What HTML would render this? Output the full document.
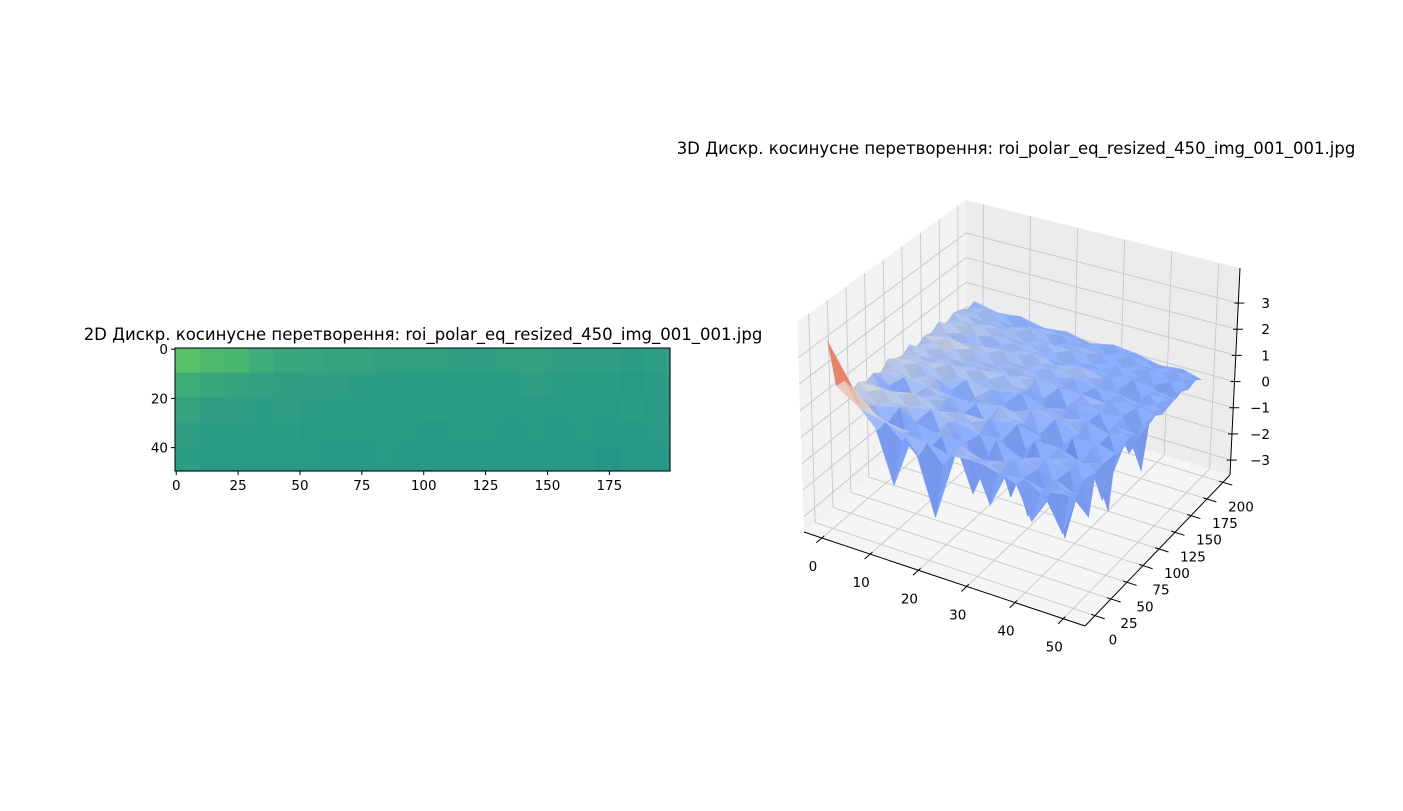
<!DOCTYPE html>
<html><head><meta charset="utf-8">
<style>
html,body{margin:0;padding:0;background:#fff;}
svg{display:block;font-family:"DejaVu Sans","Liberation Sans",sans-serif;}
</style></head>
<body>
<svg id="fig" width="1403" height="811" viewBox="0 0 1403 811" xmlns="http://www.w3.org/2000/svg">
<rect width="1403" height="811" fill="#fff"/>
<text x="423" y="340" font-size="16.5" text-anchor="middle" fill="#000">2D Дискр. косинусне перетворення: roi_polar_eq_resized_450_img_001_001.jpg</text>
<text x="1016" y="154" font-size="16.5" text-anchor="middle" fill="#000">3D Дискр. косинусне перетворення: roi_polar_eq_resized_450_img_001_001.jpg</text>
<g id="heat"></g>
<g id="surf"></g>
</svg>
<script>
// ---------- Heatmap data (viridis-normalized values, 5 row bands x 20 column bands) ----------
const heatRowsCount = 50;
const heatColsCount = 200;
const heatXTicks = [0,25,50,75,100,125,150,175];
const heatYTicks = [0,20,40];
const heatRow0 = [0.72,0.68,0.66,0.62,0.6,0.59,0.58,0.58,0.57,0.57,0.57,0.56,0.56,0.57,0.57,0.56,0.56,0.56,0.55,0.56];
const heatRow1 = [0.62,0.6,0.58,0.57,0.56,0.56,0.56,0.55,0.55,0.55,0.55,0.55,0.55,0.55,0.56,0.55,0.55,0.55,0.54,0.55];
const heatRow2 = [0.58,0.56,0.56,0.55,0.56,0.55,0.55,0.55,0.55,0.54,0.55,0.54,0.55,0.54,0.54,0.54,0.54,0.54,0.55,0.54];
const heatRow3 = [0.56,0.55,0.55,0.55,0.55,0.54,0.54,0.54,0.54,0.54,0.53,0.54,0.54,0.53,0.54,0.53,0.54,0.53,0.53,0.54];
const heatRow4 = [0.55,0.54,0.54,0.54,0.54,0.54,0.53,0.53,0.54,0.53,0.53,0.53,0.53,0.53,0.53,0.53,0.53,0.52,0.53,0.53];
const heatRows = [heatRow0,heatRow1,heatRow2,heatRow3,heatRow4];

// ---------- Surface data (z values on coarse grid) ----------
const surfXs = [0,5,10,15,20,25,30,35,40,45,49];
const surfYs = [0,10,20,30,40,50,60,70,80,90,100,110,120,130,140,150,160,170,180,190,199];
const surfZ0  = [3.5,1.6,1.2,1.0,1.1,0.9,1.0,0.8,1.1,0.9,0.8,1.0,0.7,0.9,0.8,1.0,0.7,0.9,0.8,0.6,0.7];
const surfZ5  = [2.0,1.0,0.9,0.7,1.1,0.8,-0.5,0.9,0.6,1.0,0.8,0.7,0.9,1.1,0.6,0.8,0.9,0.7,0.6,0.8,0.5];
const surfZ10 = [1.2,0.8,-1.8,0.9,0.7,1.0,0.6,0.8,0.9,0.5,1.0,0.7,0.6,0.9,0.8,0.5,0.7,0.8,0.6,0.4,0.6];
const surfZ15 = [0.9,0.7,0.8,-1.0,0.9,0.6,0.8,0.7,-0.4,0.9,0.6,0.8,0.7,0.5,0.9,0.6,0.7,0.5,0.8,0.6,0.4];
const surfZ20 = [0.8,-2.2,0.6,0.9,0.7,0.8,-1.2,0.7,0.6,0.8,0.5,0.9,0.6,0.7,0.5,0.8,0.6,0.7,0.4,0.6,0.5];
const surfZ25 = [0.6,0.8,0.7,-1.5,0.5,0.8,0.6,0.9,0.4,-0.8,0.7,0.6,0.8,0.5,0.7,0.6,0.4,0.7,0.6,0.5,0.3];
const surfZ30 = [0.7,0.5,-1.4,0.8,0.6,-1.8,0.7,0.5,0.8,0.6,0.4,-1.0,0.7,0.5,0.6,0.8,0.5,0.4,0.6,0.3,0.5];
const surfZ35 = [0.5,0.7,0.6,0.4,-2.0,0.6,0.5,-1.5,0.7,0.5,0.6,0.4,0.7,-0.6,0.5,0.6,0.4,0.6,0.3,0.5,0.4];
const surfZ40 = [0.6,-1.2,0.5,0.7,0.4,0.6,-3.0,0.5,0.4,0.7,-1.4,0.5,0.6,0.4,0.5,-0.8,0.6,0.4,0.5,0.3,0.2];
const surfZ45 = [0.4,0.6,-1.6,0.5,0.6,0.3,0.5,0.6,-1.8,0.4,0.5,0.6,-1.0,0.5,0.3,0.5,0.4,-0.7,0.3,0.4,0.3];
const surfZ49 = [0.5,0.3,0.5,-1.0,0.4,0.5,-1.5,0.4,0.3,0.5,0.4,-1.2,0.3,0.4,0.2,0.5,0.3,0.4,0.2,0.3,0.1];
const surfZ = [surfZ0,surfZ5,surfZ10,surfZ15,surfZ20,surfZ25,surfZ30,surfZ35,surfZ40,surfZ45,surfZ49];
const xTicks3 = [0,10,20,30,40,50];
const yTicks3 = [0,25,50,75,100,125,150,175,200];
const zTicks3 = [-3,-2,-1,0,1,2,3];

const NS = "http://www.w3.org/2000/svg";
function mk(tag, attrs, parent){const e=document.createElementNS(NS,tag);for(const k in attrs)e.setAttribute(k,attrs[k]);parent.appendChild(e);return e;}
function lerpStops(stops,t){t=Math.max(0,Math.min(1,t));for(let i=1;i<stops.length;i++){if(t<=stops[i][0]){const a=stops[i-1],b=stops[i];const f=(t-a[0])/(b[0]-a[0]);return [0,1,2].map(k=>Math.round(a[1][k]+(b[1][k]-a[1][k])*f));}}return stops[stops.length-1][1];}
const viridis=[[0,[68,1,84]],[0.25,[59,82,139]],[0.5,[33,145,140]],[0.75,[94,201,98]],[1,[253,231,37]]];
const coolwarm=[[0,[59,76,192]],[0.2,[98,130,234]],[0.35,[141,176,254]],[0.5,[221,221,221]],[0.65,[245,183,158]],[0.8,[236,123,96]],[1,[180,4,38]]];
const rgb=c=>`rgb(${c[0]},${c[1]},${c[2]})`;

// ---------- Heatmap ----------
(function(){
  const g=document.getElementById('heat');
  const L=175,T=348,W=495,H=123;
  const sx=c=>L+(c+0.5)*W/heatColsCount;
  const sy=r=>T+(r+0.5)*H/heatRowsCount;
  const nr=heatRows.length;
  heatRows.forEach((row,ri)=>{
    const nc=row.length;
    row.forEach((v,ci)=>{
      const r=mk('rect',{x:L+ci*W/nc,y:T+ri*H/nr,width:W/nc+0.6,height:H/nr+0.6,fill:rgb(lerpStops(viridis,v))},g);
      
      
    });
  });
  const fr=mk('rect',{x:L,y:T,width:W,height:H,fill:'none',stroke:'#000','stroke-width':1},g);
  
  
  heatXTicks.forEach(v=>{
    const x=sx(v);
    mk('line',{x1:x,y1:T+H,x2:x,y2:T+H+4,stroke:'#000'},g);
    const t=mk('text',{x:x,y:T+H+19,'font-size':13.5,'text-anchor':'middle'},g);t.textContent=v;
    
    
  });
  heatYTicks.forEach(v=>{
    const y=sy(v);
    mk('line',{x1:L-4,y1:y,x2:L,y2:y,stroke:'#000'},g);
    const t=mk('text',{x:L-7,y:y+5,'font-size':13.5,'text-anchor':'end'},g);t.textContent=v;
    
    
  });
})();

// ---------- 3D surface ----------
(function(){
  const g=document.getElementById('surf');
  const xmin=-3.7,xmax=54.5,ymin=-15.6,ymax=211,zmin=-3.57,zmax=4.34;
  const C={ '000':[804,532],'100':[1085,626],'010':[966,395],'110':[1230,475],
            '001':[797,322],'101':[1086,408],'011':[966,200],'111':[1240,268]};
  function P(x,y,z){
    const u=(x-xmin)/(xmax-xmin),v=(y-ymin)/(ymax-ymin),w=(z-zmin)/(zmax-zmin);
    const r=[0,0];
    for(const a of [0,1])for(const b of [0,1])for(const c of [0,1]){
      const f=(a?u:1-u)*(b?v:1-v)*(c?w:1-w);const p=C[''+a+b+c];r[0]+=f*p[0];r[1]+=f*p[1];}
    return r;
  }
  const pts=a=>a.map(p=>p[0].toFixed(1)+','+p[1].toFixed(1)).join(' ');
  const paneL=mk('polygon',{points:pts([P(xmin,ymin,zmin),P(xmin,ymax,zmin),P(xmin,ymax,zmax),P(xmin,ymin,zmax)]),fill:'#f2f2f2'},g);
  
  const paneB=mk('polygon',{points:pts([P(xmin,ymax,zmin),P(xmax,ymax,zmin),P(xmax,ymax,zmax),P(xmin,ymax,zmax)]),fill:'#ececec'},g);
  
  const paneF=mk('polygon',{points:pts([P(xmin,ymin,zmin),P(xmax,ymin,zmin),P(xmax,ymax,zmin),P(xmin,ymax,zmin)]),fill:'#f5f5f5'},g);
  
  const gl=(a,b)=>{const l=mk('line',{x1:a[0],y1:a[1],x2:b[0],y2:b[1],stroke:'#c8c8c8','stroke-width':0.9},g);
    };
  xTicks3.forEach(x=>{gl(P(x,ymin,zmin),P(x,ymax,zmin));gl(P(x,ymax,zmin),P(x,ymax,zmax));});
  yTicks3.forEach(y=>{gl(P(xmin,y,zmin),P(xmax,y,zmin));gl(P(xmin,y,zmin),P(xmin,y,zmax));});
  zTicks3.forEach(z=>{gl(P(xmin,ymin,z),P(xmin,ymax,z));gl(P(xmin,ymax,z),P(xmax,ymax,z));});

  function colorT(z){ return z>=0.5 ? 0.35+(z-0.5)*0.217 : 0.35+(z-0.5)*0.06; }
  const quads=[];
  for(let i=0;i<surfXs.length-1;i++)for(let j=0;j<surfYs.length-1;j++){
    const x0=surfXs[i],x1=surfXs[i+1],y0=surfYs[j],y1=surfYs[j+1];
    const z00=surfZ[i][j],z10=surfZ[i+1][j],z11=surfZ[i+1][j+1],z01=surfZ[i][j+1];
    const mx=(x0+x1)/2,my=(y0+y1)/2,mz=(z00+z10+z11+z01)/4;
    const c=P(mx,my,mz);
    const corners=[[x0,y0,z00],[x1,y0,z10],[x1,y1,z11],[x0,y1,z01]];
    for(let k=0;k<4;k++){
      const a=corners[k],b=corners[(k+1)%4];
      const tz=(a[2]+b[2]+mz)/3;
      const tx=(a[0]+b[0]+mx)/3,ty=(a[1]+b[1]+my)/3;
      quads.push({d:(tx-xmin)/(xmax-xmin)+(ymax-ty)/(ymax-ymin),p:[P(a[0],a[1],a[2]),P(b[0],b[1],b[2]),c],z:tz,shade:(k%2?0.95:1)});
    }
  }
  quads.sort((a,b)=>a.d-b.d);
  quads.forEach(q=>{
    const col=lerpStops(coolwarm,colorT(q.z)).map(v=>Math.min(255,Math.round(v*q.shade)));
    const e=mk('polygon',{points:pts(q.p),fill:rgb(col),stroke:rgb(col),'stroke-width':0.4,'stroke-linejoin':'round'},g);
    
    
  });

  const ax=(a,b,name)=>{const l=mk('line',{x1:a[0],y1:a[1],x2:b[0],y2:b[1],stroke:'#000','stroke-width':1},g);
    };
  ax(P(xmin,ymin,zmin),P(xmax,ymin,zmin),'x-axis-line');
  ax(P(xmax,ymin,zmin),P(xmax,ymax,zmin),'y-axis-line');
  ax(P(xmax,ymax,zmin),P(xmax,ymax,zmax),'z-axis-line');
  const dy=(ymax-ymin)*0.035,dx=(xmax-xmin)*0.035;
  xTicks3.forEach(x=>{
    const a=P(x,ymin+dy*0.4,zmin),b=P(x,ymin-dy,zmin);ax(a,b,'x-tick');
    const p=P(x,ymin,zmin);
    const t=mk('text',{x:p[0]-9,y:p[1]+33,'font-size':13.5,'text-anchor':'middle'},g);t.textContent=x;
    
  });
  yTicks3.forEach(y=>{
    const a=P(xmax-dx*0.4,y,zmin),b=P(xmax+dx,y,zmin);ax(a,b,'y-tick');
    const p=P(xmax,y,zmin);
    const t=mk('text',{x:p[0]+18,y:p[1]+29,'font-size':13.5,'text-anchor':'middle'},g);t.textContent=y;
    
  });
  zTicks3.forEach(z=>{
    const p=P(xmax,ymax,z);
    ax([p[0]-4,p[1]],[p[0]+6,p[1]],'z-tick');
    const t=mk('text',{x:1270,y:p[1]+5,'font-size':13.5,'text-anchor':'end'},g);t.textContent=(z<0?'\u2212'+(-z):z);
    
  });
})();
</script>
</body></html>
